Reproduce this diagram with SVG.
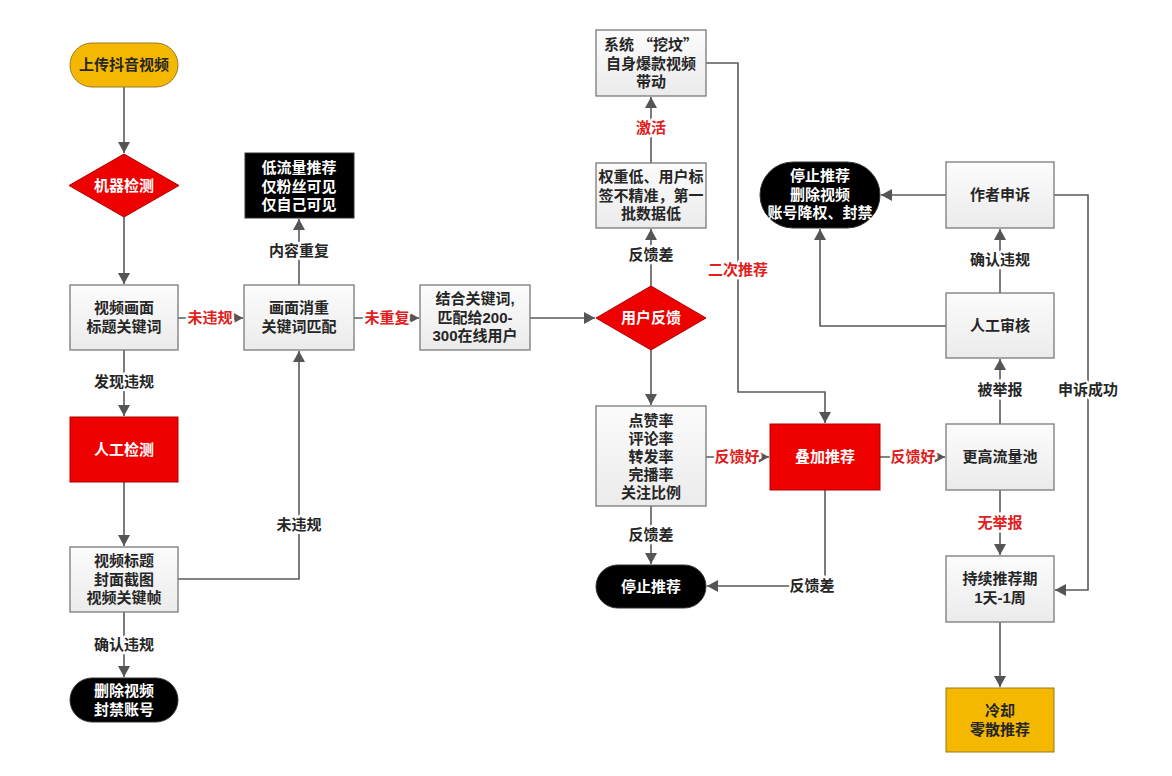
<svg xmlns="http://www.w3.org/2000/svg" width="1172" height="776" viewBox="0 0 1172 776">
<style>
text{font-family:"Liberation Sans","Noto Sans CJK SC",sans-serif;font-weight:bold;font-size:15px;text-anchor:middle}
.cjk{font-family:"Noto Sans CJK SC",sans-serif}
.dk{fill:#262626}
.wt{fill:#ffffff}
.lbl{fill:#262626;stroke:#ffffff;stroke-width:5px;paint-order:stroke;stroke-linejoin:round}
.rl{fill:#e02020;stroke:#ffffff;stroke-width:5px;paint-order:stroke;stroke-linejoin:round}
.box{fill:url(#g);stroke:#7a7a7a;stroke-width:1.3}
.red{fill:#ee0000;stroke:#b00000;stroke-width:1}
.blk{fill:#000000;stroke:#333333;stroke-width:1}
.gold{fill:#f5b800;stroke:#9a7a20;stroke-width:1}
.ln{fill:none;stroke:#5a5a5a;stroke-width:1.6}
</style>
<defs>
<linearGradient id="g" x1="0" y1="0" x2="0" y2="1"><stop offset="0" stop-color="#fcfcfc"/><stop offset="1" stop-color="#ebebeb"/></linearGradient>
<marker id="a" markerUnits="userSpaceOnUse" markerWidth="12" markerHeight="12" refX="11" refY="6" orient="auto"><path d="M0,0 L11,6 L0,12 z" fill="#555555"/></marker>
</defs>
<rect width="1172" height="776" fill="#ffffff"/>

<g id="connectors">
<path class="ln" d="M124,87 V153" marker-end="url(#a)"/>
<path class="ln" d="M124,217 V284" marker-end="url(#a)"/>
<path class="ln" d="M178,318 H243" marker-end="url(#a)"/>
<path class="ln" d="M299,285 V219" marker-end="url(#a)"/>
<path class="ln" d="M354,318 H419" marker-end="url(#a)"/>
<path class="ln" d="M530,318 H595" marker-end="url(#a)"/>
<path class="ln" d="M651,286 V229" marker-end="url(#a)"/>
<path class="ln" d="M651,163 V97" marker-end="url(#a)"/>
<path class="ln" d="M706,63 H738 V392 H825 V423" marker-end="url(#a)"/>
<path class="ln" d="M651,350 V405" marker-end="url(#a)"/>
<path class="ln" d="M706,457 H769" marker-end="url(#a)"/>
<path class="ln" d="M651,506 V564" marker-end="url(#a)"/>
<path class="ln" d="M825,490 V586 H707" marker-end="url(#a)"/>
<path class="ln" d="M880,457 H945" marker-end="url(#a)"/>
<path class="ln" d="M1000,424 V359" marker-end="url(#a)"/>
<path class="ln" d="M1000,293 V229" marker-end="url(#a)"/>
<path class="ln" d="M946,195 H881" marker-end="url(#a)"/>
<path class="ln" d="M946,326 H820 V229" marker-end="url(#a)"/>
<path class="ln" d="M1054,195 H1088 V590 H1055" marker-end="url(#a)"/>
<path class="ln" d="M1000,490 V555" marker-end="url(#a)"/>
<path class="ln" d="M1000,622 V687" marker-end="url(#a)"/>
<path class="ln" d="M124,350 V416" marker-end="url(#a)"/>
<path class="ln" d="M124,482 V546" marker-end="url(#a)"/>
<path class="ln" d="M178,579 H299 V351" marker-end="url(#a)"/>
<path class="ln" d="M124,612 V677" marker-end="url(#a)"/>

<text class="rl" x="210" y="323">未违规</text>
<text class="rl" x="387" y="323">未重复</text>
<text class="lbl" x="299" y="256">内容重复</text>
<text class="lbl" x="124" y="387">发现违规</text>
<text class="lbl" x="299" y="530">未违规</text>
<text class="lbl" x="124" y="650">确认违规</text>
<text class="lbl" x="651" y="260">反馈差</text>
<text class="rl" x="651" y="133">激活</text>
<text class="rl" x="738" y="275">二次推荐</text>
<text class="rl" x="737" y="462">反馈好</text>
<text class="lbl" x="651" y="540">反馈差</text>
<text class="lbl" x="812" y="591">反馈差</text>
<text class="rl" x="913" y="462">反馈好</text>
<text class="lbl" x="1000" y="265">确认违规</text>
<text class="lbl" x="1000" y="395">被举报</text>
<text class="lbl" x="1088" y="395">申诉成功</text>
<text class="rl" x="1000" y="528">无举报</text>
</g>

<g id="n-start"><rect class="gold" x="70" y="43" width="108" height="44" rx="22"/><text class="dk" x="124" y="70">上传抖音视频</text></g>
<g id="n-machine"><path class="red" d="M124,154 L179,185.5 L124,217 L69,185.5 z"/><text class="wt" x="124" y="191">机器检测</text></g>
<g id="n-title"><rect class="box" x="70" y="285" width="108" height="65"/><text class="dk" x="124" y="313">视频画面<tspan x="124" dy="19">标题关键词</tspan></text></g>
<g id="n-dedup"><rect class="box" x="244" y="285" width="110" height="65"/><text class="dk" x="299" y="313">画面消重<tspan x="299" dy="19">关键词匹配</tspan></text></g>
<g id="n-low"><rect class="blk" x="245" y="153" width="109" height="65"/><text class="wt" x="299" y="173">低流量推荐<tspan x="299" dy="18.5">仅粉丝可见</tspan><tspan x="299" dy="18.5">仅自己可见</tspan></text></g>
<g id="n-match"><rect class="box" x="420" y="285" width="110" height="65"/><text class="dk" x="475" y="304">结合关键词,<tspan x="475" dy="18.5">匹配给200-</tspan><tspan x="475" dy="18.5">300在线用户</tspan></text></g>
<g id="n-feedback"><path class="red" d="M651,286 L706,318 L651,350 L596,318 z"/><text class="wt" x="651" y="323">用户反馈</text></g>
<g id="n-weight"><rect class="box" x="596" y="163" width="110" height="65"/><text class="dk" x="651" y="182">权重低、用户标<tspan x="651" dy="18.5">签不精准，第一</tspan><tspan x="651" dy="18.5">批数据低</tspan></text></g>
<g id="n-dig"><rect class="box" x="596" y="30" width="110" height="66"/><text class="dk" x="651" y="50">系统 <tspan class="cjk">“</tspan>挖坟<tspan class="cjk">”</tspan><tspan x="651" dy="18.5">自身爆款视频</tspan><tspan x="651" dy="18.5">带动</tspan></text></g>
<g id="n-rates"><rect class="box" x="596" y="406" width="110" height="100"/><text class="dk" x="651" y="426">点赞率<tspan x="651" dy="18">评论率</tspan><tspan x="651" dy="18">转发率</tspan><tspan x="651" dy="18">完播率</tspan><tspan x="651" dy="18">关注比例</tspan></text></g>
<g id="n-stop"><rect class="blk" x="596" y="565" width="110" height="43" rx="21.5"/><text class="wt" x="651" y="592">停止推荐</text></g>
<g id="n-boost"><rect class="red" x="770" y="424" width="110" height="66"/><text class="wt" x="825" y="462">叠加推荐</text></g>
<g id="n-pool"><rect class="box" x="946" y="424" width="108" height="66"/><text class="dk" x="1000" y="462">更高流量池</text></g>
<g id="n-review"><rect class="box" x="946" y="293" width="108" height="65"/><text class="dk" x="1000" y="331">人工审核</text></g>
<g id="n-appeal"><rect class="box" x="946" y="162" width="108" height="66"/><text class="dk" x="1000" y="200">作者申诉</text></g>
<g id="n-ban"><rect class="blk" x="760" y="162" width="120" height="66" rx="33"/><text class="wt" x="820" y="181">停止推荐<tspan x="820" dy="18.5">删除视频</tspan><tspan x="820" dy="18.5">账号降权、封禁</tspan></text></g>
<g id="n-period"><rect class="box" x="946" y="556" width="108" height="66"/><text class="dk" x="1000" y="584">持续推荐期<tspan x="1000" dy="19">1天-1周</tspan></text></g>
<g id="n-cool"><rect class="gold" x="946" y="688" width="108" height="64"/><text class="dk" x="1000" y="716">冷却<tspan x="1000" dy="19">零散推荐</tspan></text></g>
<g id="n-manual"><rect class="red" x="70" y="417" width="108" height="65"/><text class="wt" x="124" y="455">人工检测</text></g>
<g id="n-cover"><rect class="box" x="70" y="547" width="108" height="65"/><text class="dk" x="124" y="566">视频标题<tspan x="124" dy="18.5">封面截图</tspan><tspan x="124" dy="18.5">视频关键帧</tspan></text></g>
<g id="n-delete"><rect class="blk" x="70" y="678" width="108" height="44" rx="22"/><text class="wt" x="124" y="696">删除视频<tspan x="124" dy="19">封禁账号</tspan></text></g>
</svg>
